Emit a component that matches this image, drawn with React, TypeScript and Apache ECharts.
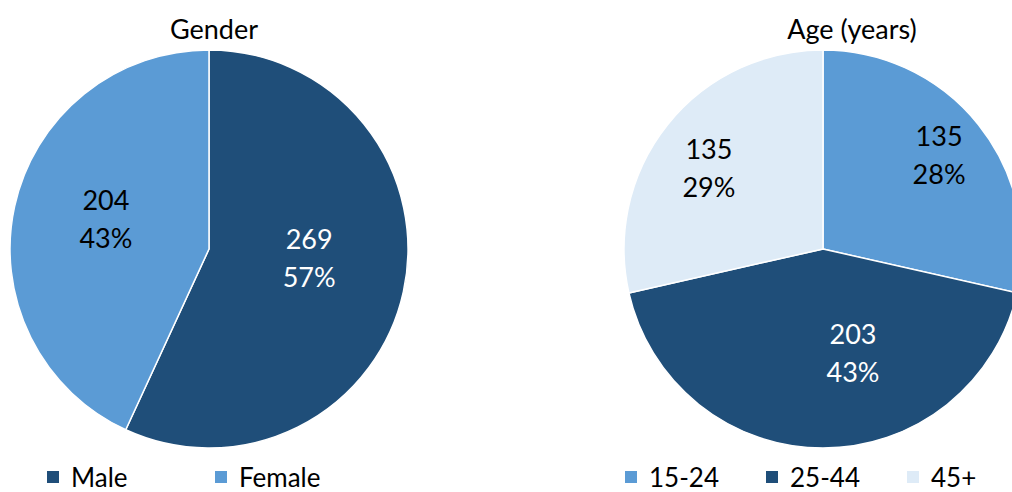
import React, { useEffect, useRef } from "react";
import * as echarts from "echarts";

const genderCategories = ["Male", "Female"];
const genderValues = [269, 204];
const genderPercents = ["57%", "43%"];

const ageCategories = ["15-24", "25-44", "45+"];
const ageValues = [135, 203, 135];
const agePercents = ["28%", "43%", "29%"];

const FONT = "Lato, 'Open Sans', sans-serif";
const DARK = "#1F4E79";
const MID = "#5B9BD5";
const LIGHT = "#DEEBF7";

export default function App() {
  const ref = useRef<HTMLDivElement>(null);
  useEffect(() => {
    document.body.style.margin = "0";
    const chart = echarts.init(ref.current!, null, { renderer: "svg" });
    const genderColors = [DARK, MID];
    const genderLabelColors = ["#fff", "#000"];
    const genderOffsets = [[0, -13], [-3, -9]];
    const ageColors = [MID, DARK, LIGHT];
    const ageLabelColors = ["#000", "#fff", "#000"];
    const ageOffsets = [[36, -31], [30, 1], [-34, -18]];

    const labelBase = {
      show: true,
      position: "inside",
      fontFamily: FONT,
      fontSize: 27,
      lineHeight: 38,
    };

    const legendBase = {
      orient: "horizontal",
      top: 464,
      padding: 0,
      icon: "rect",
      itemWidth: 14,
      itemHeight: 14,
      textStyle: {
        fontFamily: FONT,
        fontSize: 26,
        lineHeight: 24,
        color: "#000",
        padding: [0, 0, 0, 6],
      },
    };

    const legendLefts = { Male: 45, Female: 213, "15-24": 623, "25-44": 764, "45+": 905 };

    chart.setOption({
      animation: false,
      backgroundColor: "#fff",
      title: [
        {
          text: "Gender",
          left: 214,
          top: 15,
          padding: 0,
          textAlign: "center",
          textStyle: { fontFamily: FONT, fontSize: 27, fontWeight: "normal", color: "#000" },
        },
        {
          text: "Age (years)",
          left: 852,
          top: 15,
          padding: 0,
          textAlign: "center",
          textStyle: { fontFamily: FONT, fontSize: 27, fontWeight: "normal", color: "#000" },
        },
      ],
      legend: [...genderCategories, ...ageCategories].map((name) => ({
        ...legendBase,
        left: (legendLefts as any)[name],
        data: [name],
      })),
      series: [
        {
          type: "pie",
          center: [209, 249],
          radius: 199,
          startAngle: 90,
          clockwise: true,
          itemStyle: { borderColor: "#fff", borderWidth: 1.5 },
          labelLine: { show: false },
          emphasis: { disabled: true },
          data: genderCategories.map((name, i) => ({
            name,
            value: genderValues[i],
            itemStyle: { color: genderColors[i] },
            label: {
              ...labelBase,
              color: genderLabelColors[i],
              offset: genderOffsets[i],
              formatter: `${genderValues[i]}\n${genderPercents[i]}`,
            },
          })),
        },
        {
          type: "pie",
          center: [823, 249],
          radius: 199,
          startAngle: 90,
          clockwise: true,
          itemStyle: { borderColor: "#fff", borderWidth: 1.5 },
          labelLine: { show: false },
          emphasis: { disabled: true },
          data: ageCategories.map((name, i) => ({
            name,
            value: ageValues[i],
            itemStyle: { color: ageColors[i] },
            label: {
              ...labelBase,
              color: ageLabelColors[i],
              offset: ageOffsets[i],
              formatter: `${ageValues[i]}\n${agePercents[i]}`,
            },
          })),
        },
      ],
    });
    return () => chart.dispose();
  }, []);
  return <div ref={ref} style={{ width: 1012, height: 492 }} />;
}
